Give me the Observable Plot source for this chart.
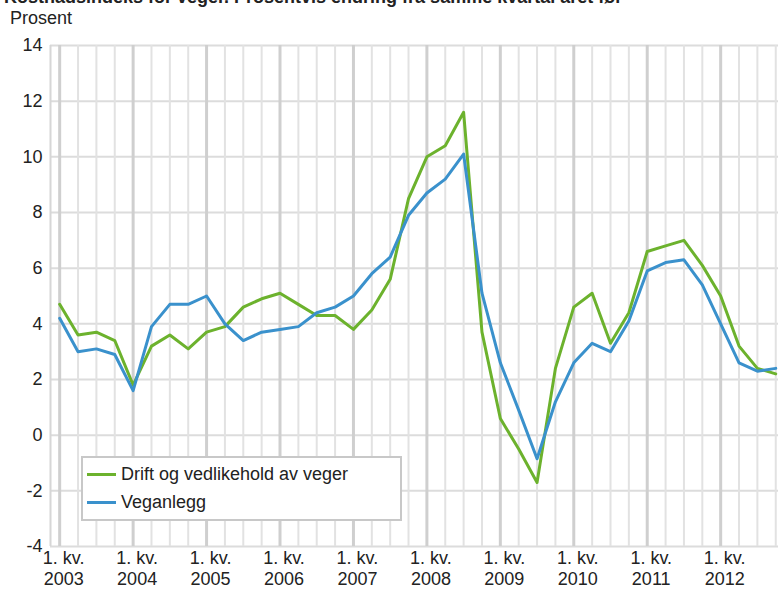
<!DOCTYPE html>
<html>
<head>
<meta charset="utf-8">
<script src="https://cdn.jsdelivr.net/npm/d3@7"></script>
<script src="https://cdn.jsdelivr.net/npm/@observablehq/plot@0.6"></script>
<style>
  html, body { margin: 0; padding: 0; background: #fff; }
  #wrap { position: relative; width: 778px; height: 590px; overflow: hidden; font-family: "Liberation Sans", Arial, sans-serif; color: #222; }
  #title { position: absolute; left: 4px; top: -13px; font-size: 18px; font-weight: bold; white-space: nowrap; }
  #unit { position: absolute; left: 10px; top: 8px; font-size: 18px; }
  #legend { position: absolute; left: 81px; top: 456px; width: 321px; height: 65px; border: 2px solid #c8c8c8; background: #fff; box-sizing: border-box; font-size: 18px; }
  .item { position: absolute; left: 4px; height: 22px; display: flex; align-items: center; }
  .sw { width: 29px; height: 3px; margin-right: 5px; }
</style>
</head>
<body>
<div id="wrap">
  <div id="title">Kostnadsindeks for veger. Prosentvis endring fra samme kvartal året før</div>
  <div id="unit">Prosent</div>
  <div id="chart"></div>
  <div id="legend"></div>
</div>
<script>
// Data: quarterly, 1. kv. 2003 – 4. kv. 2012
const years = [2003, 2004, 2005, 2006, 2007, 2008, 2009, 2010, 2011, 2012];
const seriesNames = ["Drift og vedlikehold av veger", "Veganlegg"];
const seriesColors = ["#6cb22d", "#3a91cc"];
const drift = [
  4.7, 3.6, 3.7, 3.4,
  1.8, 3.2, 3.6, 3.1,
  3.7, 3.9, 4.6, 4.9,
  5.1, 4.7, 4.3, 4.3,
  3.8, 4.5, 5.6, 8.5,
  10.0, 10.4, 11.6, 3.7,
  0.6, -0.5, -1.7, 2.4,
  4.6, 5.1, 3.3, 4.4,
  6.6, 6.8, 7.0, 6.1,
  5.0, 3.2, 2.4, 2.2
];
const veganlegg = [
  4.2, 3.0, 3.1, 2.9,
  1.6, 3.9, 4.7, 4.7,
  5.0, 4.0, 3.4, 3.7,
  3.8, 3.9, 4.4, 4.6,
  5.0, 5.8, 6.4, 7.9,
  8.7, 9.2, 10.1, 5.1,
  2.6, 0.9, -0.85, 1.2,
  2.6, 3.3, 3.0, 4.1,
  5.9, 6.2, 6.3, 5.4,
  4.0, 2.6, 2.3, 2.4
];
const yTicks = [-4, -2, 0, 2, 4, 6, 8, 10, 12, 14];
const xTickLabels = years.map(y => `1. kv.\n${y}`);

const quarterIdx = d3.range(drift.length);
const yearIdx = years.map((y, k) => k * 4);
const rows = [
  ...drift.map((v, i) => ({i, v, s: seriesNames[0]})),
  ...veganlegg.map((v, i) => ({i, v, s: seriesNames[1]}))
];

const chart = Plot.plot({
  width: 778,
  height: 590,
  marginTop: 45,
  marginBottom: 44,
  marginLeft: 50,
  marginRight: 0,
  style: {fontFamily: '"Liberation Sans", Arial, sans-serif', fontSize: "18px", color: "#222", background: "transparent"},
  x: {type: "linear", domain: [-0.5, 39.15], label: null},
  y: {domain: [-4, 14], label: null},
  color: {domain: seriesNames, range: seriesColors},
  marks: [
    Plot.ruleY(yTicks, {stroke: "#dcdcdc", strokeWidth: 2}),
    Plot.ruleX(quarterIdx.filter(i => i % 4 !== 0), {stroke: "#e2e2e2", strokeWidth: 2}),
    Plot.ruleX(yearIdx, {stroke: "#cfcfcf", strokeWidth: 3}),
    Plot.ruleX([-0.5], {stroke: "#d6d6d6", strokeWidth: 2}),
    Plot.axisY(yTicks, {tickSize: 0, tickPadding: 8, tickFormat: d => d, fontSize: 18, label: null}),
    Plot.axisX(yearIdx, {tickSize: 0, tickPadding: 3, dx: 4, lineHeight: 1.15, fontSize: 18, label: null,
      tickFormat: d => xTickLabels[yearIdx.indexOf(d)]}),
    Plot.line(rows, {x: "i", y: "v", z: "s", stroke: "s", strokeWidth: 3, strokeLinejoin: "round"})
  ]
});
document.getElementById("chart").appendChild(chart);

const legend = document.getElementById("legend");
seriesNames.forEach((name, k) => {
  const it = document.createElement("div");
  it.className = "item";
  it.style.top = (k === 0 ? 5 : 33) + "px";
  const sw = document.createElement("span");
  sw.className = "sw";
  sw.style.background = seriesColors[k];
  const tx = document.createElement("span");
  tx.textContent = name;
  it.appendChild(sw);
  it.appendChild(tx);
  legend.appendChild(it);
});
</script>
</body>
</html>
